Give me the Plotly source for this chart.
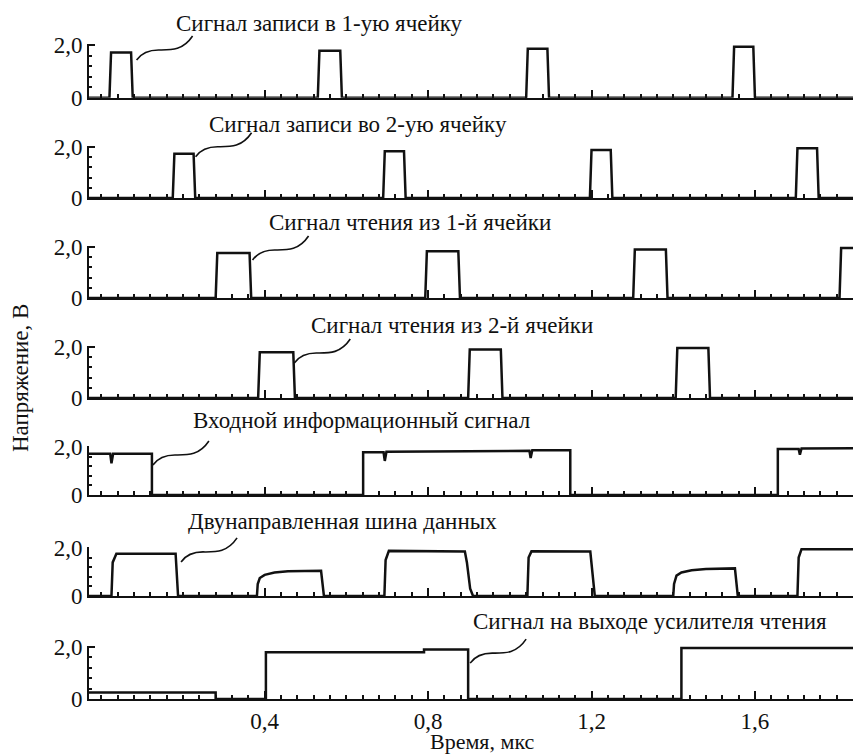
import plotly.graph_objects as go

# ---------------- data ----------------
row_titles = [
    "Сигнал записи в 1-ую ячейку",
    "Сигнал записи во 2-ую ячейку",
    "Сигнал чтения из 1-й ячейки",
    "Сигнал чтения из 2-й ячейки",
    "Входной информационный сигнал",
    "Двунаправленная шина данных",
    "Сигнал на выходе усилителя чтения",
]

write1_start = [0.020, 0.530, 1.040, 1.545]
write1_end = [0.073, 0.585, 1.092, 1.596]
write1_level = [1.72, 1.78, 1.86, 1.93]

write2_start = [0.175, 0.690, 1.196, 1.700]
write2_end = [0.226, 0.741, 1.247, 1.752]
write2_level = [1.74, 1.83, 1.88, 1.95]

read1_start = [0.280, 0.793, 1.302, 1.807]
read1_end = [0.363, 0.874, 1.382, 1.950]
read1_level = [1.76, 1.83, 1.90, 1.96]

read2_start = [0.384, 0.898, 1.406]
read2_end = [0.470, 0.978, 1.486]
read2_level = [1.79, 1.90, 1.96]

input_t = [-0.03, 0.022, 0.025, 0.029, 0.124, 0.124, 0.641, 0.641, 0.691, 0.694,
           0.698, 1.048, 1.051, 1.055, 1.148, 1.148, 1.656, 1.656, 1.707, 1.710,
           1.714, 1.84]
input_v = [1.72, 1.72, 1.32, 1.72, 1.72, 0.0, 0.0, 1.78, 1.78, 1.42,
           1.80, 1.84, 1.54, 1.86, 1.86, 0.0, 0.0, 1.92, 1.92, 1.68,
           1.94, 1.95]

bus_t = [-0.03, 0.025, 0.028, 0.037, 0.182, 0.184, 0.188,
         0.381, 0.383, 0.388, 0.400, 0.424, 0.457, 0.538, 0.541, 0.545,
         0.693, 0.696, 0.704, 0.890, 0.895, 0.903, 0.910,
         1.043, 1.046, 1.053, 1.197, 1.201, 1.208,
         1.400, 1.402, 1.408, 1.420, 1.445, 1.480, 1.551, 1.554, 1.558,
         1.704, 1.707, 1.714, 1.84]
bus_v = [0.0, 0.0, 1.40, 1.76, 1.76, 1.20, 0.0,
         0.0, 0.50, 0.75, 0.88, 0.98, 1.03, 1.05, 0.60, 0.0,
         0.0, 1.50, 1.88, 1.85, 1.40, 0.30, 0.0,
         0.0, 1.60, 1.86, 1.85, 1.20, 0.0,
         0.0, 0.50, 0.85, 0.98, 1.07, 1.12, 1.15, 0.60, 0.0,
         0.0, 1.60, 1.95, 1.95]

output_t = [-0.03, 0.280, 0.280, 0.403, 0.403, 0.790, 0.790, 0.898, 0.898, 1.420, 1.420, 1.84]
output_v = [0.25, 0.25, 0.0, 0.0, 1.80, 1.80, 1.90, 1.90, 0.0, 0.0, 1.96, 1.96]

x_tick_vals = [0.4, 0.8, 1.2, 1.6]
x_tick_text = ["0,4", "0,8", "1,2", "1,6"]
y_tick_vals = [0, 2]
y_tick_text = ["0", "2,0"]

x_title = "Время, мкс"
y_title = "Напряжение, В"

# ---------------- layout constants ----------------
W, H = 853, 756
ML, MR, MT, MB = 89, 0, 0, 56
PW, PH = W - ML - MR, H - MT - MB
X_MIN, X_MAX = -0.03, 1.84
Y_MAX = 2.04
EDGE = 0.004
FONT = "Liberation Serif"
INK = "#111111"

# pixel rows (y of 0 V and of 2 V, from top of figure)
row_zero_px = [97.7, 198, 298, 398, 495, 596, 699]
row_two_px = [45, 147, 247, 347, 447, 548, 647]
title_center_px = [(319, 24), (358, 124.5), (410, 222.5), (452, 325),
                   (361, 420.5), (342, 521.5), (650, 621.5)]


def pulse_train(starts, ends, levels):
    t, v = [X_MIN], [0.0]
    for s, e, lv in zip(starts, ends, levels):
        t += [s, s + EDGE, e, e + EDGE]
        v += [0.0, lv, lv, 0.0]
    t.append(X_MAX)
    v.append(0.0)
    return t, v


series = [
    pulse_train(write1_start, write1_end, write1_level),
    pulse_train(write2_start, write2_end, write2_level),
    pulse_train(read1_start, read1_end, read1_level),
    pulse_train(read2_start, read2_end, read2_level),
    (input_t, input_v),
    (bus_t, bus_v),
    (output_t, output_v),
]

# leader-line anchors: the trailing edge each label points to
leader_edge_t = [write1_end[0], write2_end[0], read1_end[0], read2_end[0],
                 input_t[4], bus_t[6], output_t[7]]
leader_edge_v = [1.43, 1.62, 1.49, 1.37, 1.25, 1.42, 1.38]
leader_dx_px = [5.5, 2, 3, 1, 1, 3, 2]


def t2px(t):
    return ML + (t - X_MIN) / (X_MAX - X_MIN) * PW


def v2px(row, v):
    z, tw = row_zero_px[row], row_two_px[row]
    return z - v * (z - tw) / 2.0


def px2paper(x, y):
    return (x - ML) / PW, (MT + PH - y) / PH


fig = go.Figure()
layout = dict(
    width=W, height=H,
    margin=dict(l=ML, r=MR, t=MT, b=MB, pad=0, autoexpand=False),
    paper_bgcolor="white", plot_bgcolor="white",
    showlegend=False,
    font=dict(family=FONT, size=23, color=INK),
)

annotations = []
shapes = []

for i, (t, v) in enumerate(series):
    sfx = "" if i == 0 else str(i + 1)
    fig.add_trace(go.Scatter(
        x=t, y=v, mode="lines", xaxis="x" + sfx, yaxis="y" + sfx,
        line=dict(color=INK, width=2.5), hoverinfo="skip",
    ))
    z, tw = row_zero_px[i], row_two_px[i]
    top_px = tw - (Y_MAX - 2.0) * (z - tw) / 2.0
    d0 = (MT + PH - z) / PH
    d1 = (MT + PH - top_px) / PH
    bottom = i == len(series) - 1
    layout["xaxis" + sfx] = dict(
        domain=[0, 1], range=[X_MIN, X_MAX], anchor="y" + sfx,
        automargin=False,
        showline=True, linecolor=INK, linewidth=2,
        ticks="inside", ticklen=8, tickwidth=1.5, tickcolor=INK,
        tickmode="array", tickvals=x_tick_vals, ticktext=x_tick_text,
        showticklabels=bottom, tickfont=dict(family=FONT, size=23, color=INK),
        minor=dict(tickmode="linear", tick0=0, dtick=0.04, ticks="inside",
                   ticklen=4, tickwidth=1.5, tickcolor=INK),
        showgrid=False, zeroline=False, fixedrange=True,
    )
    layout["yaxis" + sfx] = dict(
        domain=[max(d0, 0), min(d1, 1)], range=[0, Y_MAX], anchor="x" + sfx,
        automargin=False,
        showline=True, linecolor=INK, linewidth=2,
        ticks="inside", ticklen=6, tickwidth=1.5, tickcolor=INK,
        tickmode="array", tickvals=y_tick_vals, ticktext=y_tick_text,
        tickfont=dict(family=FONT, size=23, color=INK),
        minor=dict(tickmode="linear", tick0=0, dtick=0.4, ticks="inside",
                   ticklen=3, tickwidth=1.5, tickcolor=INK),
        showgrid=False, zeroline=False, fixedrange=True,
    )

    # row title
    cx, cy = title_center_px[i]
    px, py = px2paper(cx, cy)
    annotations.append(dict(
        text=row_titles[i], x=px, y=py, xref="paper", yref="paper",
        xanchor="center", yanchor="middle", showarrow=False,
        font=dict(family=FONT, size=23, color=INK),
    ))

    # leader line (wavy) from edge to title
    sx = t2px(leader_edge_t[i]) + leader_dx_px[i]
    sy = v2px(i, leader_edge_v[i])
    rel = [(0, 0), (5, -7), (12, -10), (22, -10), (34, -10), (46, -9), (56, -24)]
    pts = [px2paper(sx + dx, sy + dy) for dx, dy in rel]
    path = "M {:.5f},{:.5f} C {:.5f},{:.5f} {:.5f},{:.5f} {:.5f},{:.5f} C {:.5f},{:.5f} {:.5f},{:.5f} {:.5f},{:.5f}".format(
        *[c for p in pts for c in p])
    shapes.append(dict(type="path", path=path, xref="paper", yref="paper",
                       line=dict(color=INK, width=1.6)))

# axis titles
ax, ay = px2paper(482, 741)
annotations.append(dict(text=x_title, x=ax, y=ay, xref="paper", yref="paper",
                        xanchor="center", yanchor="middle", showarrow=False,
                        font=dict(family=FONT, size=22, color=INK)))
yx, yy = px2paper(20, 378)
annotations.append(dict(text=y_title, x=yx, y=yy, xref="paper", yref="paper",
                        xanchor="center", yanchor="middle", showarrow=False,
                        textangle=-90, font=dict(family=FONT, size=23, color=INK)))

layout["annotations"] = annotations
layout["shapes"] = shapes
fig.update_layout(**layout)

fig.write_html(
    "out.html",
    config={"displayModeBar": False},
    post_script=(
        "document.documentElement.style.margin='0';"
        "document.body.style.margin='0';document.body.style.overflow='hidden';"
        "var d=document.getElementById('{plot_id}');"
        "d.style.position='absolute';d.style.left='0px';d.style.top='0px';"
    ),
)
